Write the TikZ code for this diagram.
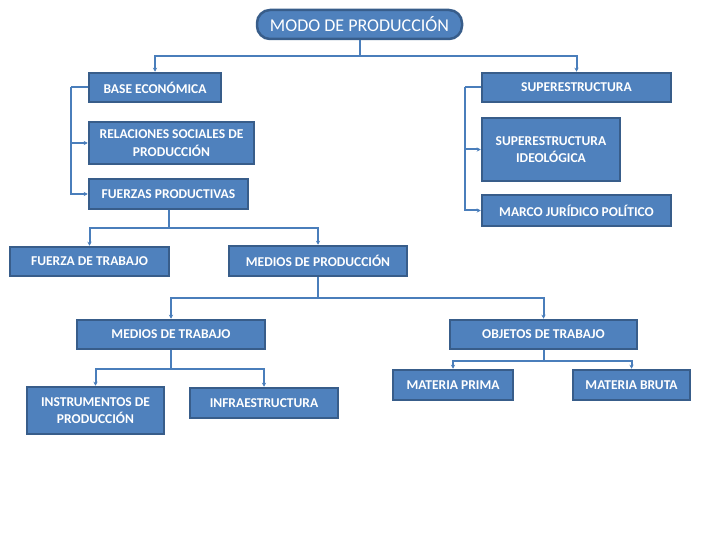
\documentclass[tikz,border=0pt]{standalone}
\usepackage{fontspec}
\setmainfont{Carlito}
\usepackage{tikz}
\usetikzlibrary{shapes,arrows.meta,positioning}

\definecolor{azul}{HTML}{4F81BD}
\definecolor{borde}{HTML}{385D8A}
\definecolor{linea}{HTML}{4A7EBB}

\tikzset{
    caja/.style={draw=borde, line width=2.5pt, fill=azul, text=white,
        font=\bfseries\fontsize{13.5}{17.5}\selectfont, align=center, inner sep=0pt},
    titulo/.style={caja, rounded corners=13pt, font=\fontsize{18}{20}\selectfont},
    conector/.style={draw=linea, line width=2pt, -{Stealth[length=4pt,width=4pt]}},
    tramo/.style={draw=linea, line width=2pt}
}

\begin{document}
\begin{tikzpicture}[x=1pt,y=-1pt]
    \useasboundingbox (0,0) rectangle (720,540);

    \node[titulo, minimum width=205pt, minimum height=29pt] (modo) at (359.5,24.5) {MODO DE PRODUCCIÓN};

    % base y superestructura
    \node[caja, minimum width=132pt, minimum height=29pt] (base) at (155,87.5) {BASE ECONÓMICA};
    \node[caja, minimum width=165pt, minimum height=42pt] (relaciones) at (171.5,143) {RELACIONES SOCIALES DE\\PRODUCCIÓN};
    \node[caja, minimum width=159pt, minimum height=30pt] (fuerzas) at (168.5,194) {FUERZAS PRODUCTIVAS};
    \node[caja, minimum width=189pt, minimum height=29pt] (super) at (576.5,87.5) {SUPERESTRUCTURA};
    \node[caja, minimum width=138pt, minimum height=63pt] (ideologica) at (551,149.5) {SUPERESTRUCTURA\\IDEOLÓGICA};
    \node[caja, minimum width=189pt, minimum height=31pt] (marco) at (576.5,210.5) {MARCO JURÍDICO POLÍTICO};

    % fuerzas productivas
    \node[caja, minimum width=159pt, minimum height=29pt] (trabajo) at (89.5,261.5) {FUERZA DE TRABAJO};
    \node[caja, minimum width=178pt, minimum height=30pt] (mediosprod) at (318,261) {MEDIOS DE PRODUCCIÓN};
    \node[caja, minimum width=188pt, minimum height=29pt] (mediostrab) at (171,334.5) {MEDIOS DE TRABAJO};
    \node[caja, minimum width=187pt, minimum height=29pt] (objetos) at (543.5,334.5) {OBJETOS DE TRABAJO};
    \node[caja, minimum width=137pt, minimum height=47pt] (instrumentos) at (95.5,410.5) {INSTRUMENTOS DE\\PRODUCCIÓN};
    \node[caja, minimum width=148pt, minimum height=30pt] (infra) at (264,403) {INFRAESTRUCTURA};
    \node[caja, minimum width=120pt, minimum height=30pt] (prima) at (453,385) {MATERIA PRIMA};
    \node[caja, minimum width=117pt, minimum height=30pt] (bruta) at (631.5,385) {MATERIA BRUTA};

    % conectores
    \draw[tramo] (modo.south) -- ++(0,16) coordinate (m1);
    \draw[conector] (m1) -| (base.north);
    \draw[conector] (m1) -| (super.north);

    \draw[tramo] (base.west) -- ++(-17,0) coordinate (b1);
    \draw[conector] (b1) |- (relaciones.west);
    \draw[conector] (b1) |- (fuerzas.west);
    \draw[tramo] (super.west) -- ++(-16,0) coordinate (s1);
    \draw[conector] (s1) |- (ideologica.west);
    \draw[conector] (s1) |- (marco.west);

    \draw[tramo] (fuerzas.south) -- ++(0,18) coordinate (f1);
    \draw[conector] (f1) -| (trabajo.north);
    \draw[conector] (f1) -| (mediosprod.north);

    \draw[tramo] (mediosprod.south) -- ++(0,21) coordinate (p1);
    \draw[conector] (p1) -| (mediostrab.north);
    \draw[conector] (p1) -| (objetos.north);

    \draw[tramo] (mediostrab.south) -- ++(0,19) coordinate (t1);
    \draw[conector] (t1) -| (instrumentos.north);
    \draw[conector] (t1) -| (infra.north);

    \draw[tramo] (objetos.south) -- ++(0,11) coordinate (o1);
    \draw[conector] (o1) -| (prima.north);
    \draw[conector] (o1) -| (bruta.north);
\end{tikzpicture}
\end{document}
